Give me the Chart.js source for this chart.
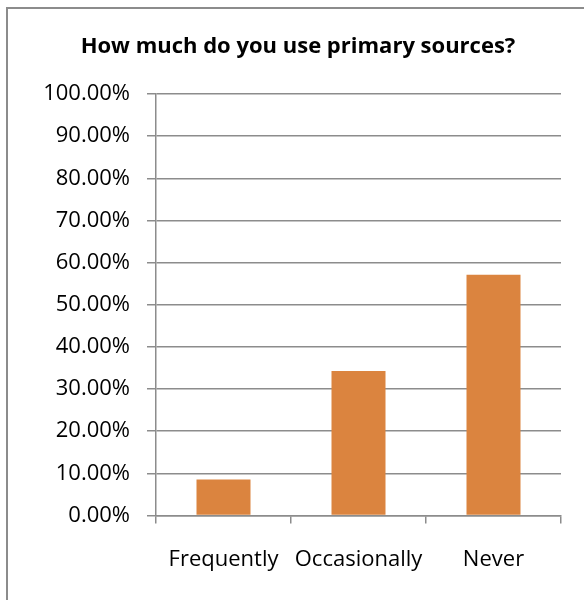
<!DOCTYPE html>
<html>
<head>
<meta charset="utf-8">
<script src="https://cdn.jsdelivr.net/npm/chart.js@4/dist/chart.umd.min.js"></script>
<style>
  html, body { margin: 0; padding: 0; background: #fff; overflow: hidden; }
  #wrap { position: relative; width: 584px; height: 600px; }
  #frame { position: absolute; left: 6px; top: 7px; width: 640px; height: 660px;
           border: 2px solid #8c8c8c; box-sizing: border-box; }
  canvas { position: absolute; left: 0; top: 0; }
</style>
</head>
<body>
<div id="wrap">
  <div id="frame"></div>
  <canvas id="c" width="584" height="600"></canvas>
</div>
<script>
// Survey answers: share of respondents per category (percent)
const chartTitle = 'How much do you use primary sources?';
const categories = ['Frequently', 'Occasionally', 'Never'];
const shares = [8.57, 34.29, 57.14];
const yTickMax = 100;
const yTickStep = 10;

const FONT = '"Open Sans", "Liberation Sans", sans-serif';
const GRID = '#8c8c8c';

const titlePlugin = {
  id: 'chartHeading',
  afterDraw(chart) {
    const ctx = chart.ctx;
    ctx.save();
    ctx.font = 'bold 22px ' + FONT;
    ctx.fillStyle = '#000';
    ctx.textAlign = 'center';
    ctx.textBaseline = 'alphabetic';
    ctx.fillText(chartTitle, 298, 53);
    ctx.restore();
  }
};

new Chart(document.getElementById('c'), {
  type: 'bar',
  data: {
    labels: categories,
    datasets: [{
      data: shares,
      backgroundColor: '#db843f',
      borderWidth: 0,
      barPercentage: 0.4,
      categoryPercentage: 1.0
    }]
  },
  plugins: [titlePlugin],
  options: {
    responsive: false,
    animation: false,
    layout: { padding: { top: 94, right: 23, bottom: 0, left: 0 } },
    plugins: { legend: { display: false }, tooltip: { enabled: false }, title: { display: false } },
    scales: {
      x: {
        offset: true,
        afterFit(scale) { scale.height = 84.5; },
        grid: { display: true, offset: true, drawOnChartArea: false, drawTicks: true,
                tickLength: 8, color: GRID, lineWidth: 1.5 },
        border: { display: true, color: GRID, width: 1.5 },
        ticks: { color: '#000', font: { family: FONT, size: 22 }, padding: 23, maxRotation: 0, autoSkip: false }
      },
      y: {
        min: 0,
        max: yTickMax,
        afterFit(scale) { scale.width = 156; },
        ticks: {
          stepSize: yTickStep,
          color: '#000',
          font: { family: FONT, size: 22 },
          padding: 17,
          callback: v => v.toFixed(2) + '%'
        },
        grid: { color: GRID, lineWidth: 1.5, drawTicks: true, tickLength: 9 },
        border: { display: true, color: GRID, width: 1.5 }
      }
    }
  }
});
</script>
</body>
</html>
